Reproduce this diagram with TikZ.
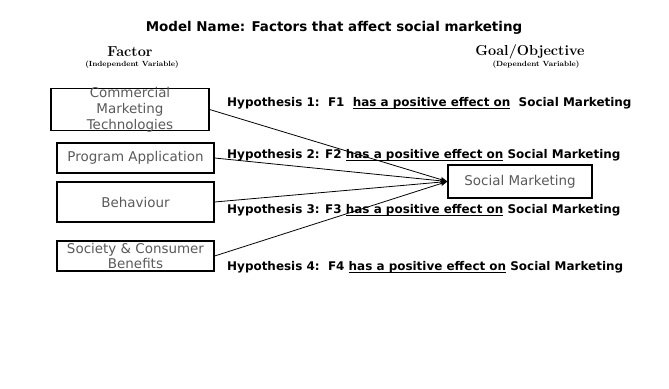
\documentclass[tikz,border=0pt]{standalone}
\usepackage{fontspec}
\usepackage{tikz}
\usetikzlibrary{arrows.meta,positioning}
\newfontfamily\dejavu{DejaVu Sans}
\newcommand{\hyul}[1]{\setbox0\hbox{#1}\rlap{\rule[-2pt]{\wd0}{0.7pt}}\box0\relax}

\begin{document}
\begin{tikzpicture}[
    x=1bp, y=-1bp,
    factorbox/.style={draw, line width=1.2pt, inner sep=0pt, minimum width=157bp, font=\dejavu\fontsize{13.5}{16}\selectfont, text=black!65, align=center},
    hyp/.style={anchor=west, inner sep=0pt, font=\dejavu\bfseries\fontsize{12}{14}\selectfont},
    head/.style={font=\bfseries\fontsize{14.5}{16}\selectfont},
    sub/.style={font=\bfseries\fontsize{7.5}{9}\selectfont}
  ]
    \useasboundingbox (0,0) rectangle (669,388);
    \node[font=\dejavu\bfseries\fontsize{13.5}{15}\selectfont] (title) at (334,28) {Model Name: Factors that affect social marketing};
    \node[head] (factor) at (130,52) {Factor};
    \node[sub] (indep) at (132,65) {(Independent Variable)};
    \node[head] (goal) at (530,52) {Goal/Objective};
    \node[sub] (dep) at (536,65) {(Dependent Variable)};
    % factors
    \node[factorbox, minimum width=158bp, minimum height=42bp] (f1) at (130,109.5) {};
    \node[factorbox, draw=none, inner sep=0pt] (f1text) at (130,110) {Commercial\\Marketing\\Technologies};
    \node[factorbox, minimum height=30bp] (f2) at (135.5,158) {Program Application};
    \node[factorbox, minimum height=40bp] (f3) at (135.5,202) {Behaviour};
    \node[factorbox, minimum height=30bp, font=\dejavu\fontsize{13.5}{15}\selectfont] (f4) at (135.5,256) {Society \& Consumer\\Benefits};
    \node[factorbox, minimum width=144bp, minimum height=33bp] (sm) at (520,181.5) {Social Marketing};
    % hypotheses
    \node[hyp] (h1) at (227,103) {Hypothesis 1:\ \ F1\ \ \hyul{has a positive effect on}\ \ Social Marketing};
    \node[hyp] (h2) at (227,155) {Hypothesis 2: F2 \hyul{has a positive effect on} Social Marketing};
    \node[hyp] (h3) at (227,210) {Hypothesis 3: F3 \hyul{has a positive effect on} Social Marketing};
    \node[hyp] (h4) at (227,267) {Hypothesis 4:\ \ F4 \hyul{has a positive effect on} Social Marketing};
    \draw[-{Stealth[length=2.5mm]}, line width=0.8pt] (f1.east) -- (sm.west);
    \draw[-{Stealth[length=2.5mm]}, line width=0.8pt] (f2.east) -- (sm.west);
    \draw[-{Stealth[length=2.5mm]}, line width=0.8pt] (f3.east) -- (sm.west);
    \draw[-{Stealth[length=2.5mm]}, line width=0.8pt] (f4.east) -- (sm.west);
  \end{tikzpicture}
\end{document}
